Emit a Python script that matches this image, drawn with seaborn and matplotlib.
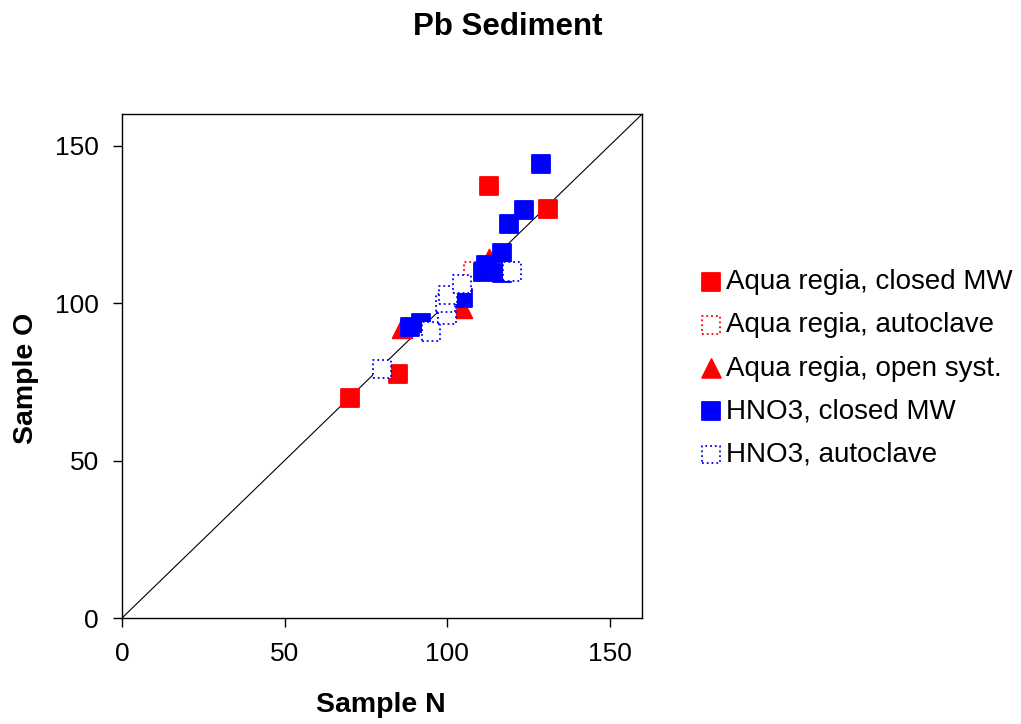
import numpy as np
import pandas as pd
import matplotlib
matplotlib.use("Agg")
import matplotlib.pyplot as plt
import seaborn as sns

# Values (Sample N, Sample O)
ar_closed_n = [70, 85, 113, 131]
ar_closed_o = [70, 77.5, 137, 130]

ar_auto_n = [108]
ar_auto_o = [110]

ar_open_n = [86, 104.5, 113]
ar_open_o = [92, 98.5, 114]

hno3_closed_n = [88.5, 92, 105, 111, 112, 117, 117, 119, 123.5, 129]
hno3_closed_o = [92.5, 93.5, 101.5, 110, 112, 109.5, 116, 125, 129.5, 144]

hno3_auto_n = [80, 95, 100, 99.5, 100.3, 104.5, 120]
hno3_auto_o = [79, 91, 96.4, 100, 102.5, 106, 110]

labels = ["Aqua regia, closed MW", "Aqua regia, autoclave",
          "Aqua regia, open syst.", "HNO3, closed MW", "HNO3, autoclave"]
ticks = [0, 50, 100, 150]

sns.set_theme(style="white")
plt.rcParams["font.family"] = ["Liberation Sans", "DejaVu Sans"]
plt.rcParams["text.color"] = "black"
plt.rcParams["axes.labelcolor"] = "black"
plt.rcParams["xtick.color"] = "black"
plt.rcParams["ytick.color"] = "black"

fig = plt.figure(figsize=(10.21, 7.24), dpi=100)
ax = fig.add_axes([0.1195, 0.1464, 0.5095, 0.6961])

# diagonal 1:1 line
ax.plot([0, 160], [0, 160], color="black", lw=0.8, zorder=1)

series = [
    (ar_closed_n, ar_closed_o, "s", "red", "red", "-"),
    (ar_auto_n, ar_auto_o, "s", "white", "red", ":"),
    (ar_open_n, ar_open_o, "^", "red", "red", "-"),
    (hno3_closed_n, hno3_closed_o, "s", "blue", "blue", "-"),
    (hno3_auto_n, hno3_auto_o, "s", "white", "blue", ":"),
]

for (xs, ys, mk, fc, ec, ls), lab in zip(series, labels):
    df = pd.DataFrame({"Sample N": xs, "Sample O": ys})
    sns.scatterplot(data=df, x="Sample N", y="Sample O", ax=ax, marker=mk,
                    s=175 if mk == "s" else 200, color=fc, edgecolor=ec,
                    linewidth=1.3, linestyle=ls, label=lab, zorder=3)

ax.set_xlim(0, 160)
ax.set_ylim(0, 160)
ax.set_xticks(ticks)
ax.set_yticks(ticks)
ax.tick_params(axis="both", direction="out", length=6.5, width=1, labelsize=19,
               bottom=True, left=True)
ax.tick_params(axis="y", pad=10)
ax.tick_params(axis="x", pad=11)
for sp in ax.spines.values():
    sp.set_color("black")
    sp.set_linewidth(1)

ax.set_xlabel("Sample N", fontsize=20.5, fontweight="bold")
ax.set_ylabel("Sample O", fontsize=20.5, fontweight="bold")
ax.xaxis.set_label_coords(0.497, -0.147)
ax.yaxis.set_label_coords(-0.16, 0.476)
fig.suptitle("Pb Sediment", fontsize=22.5, fontweight="bold", x=0.497, y=0.983)

ax.legend(loc="center left", bbox_to_anchor=(1.111, 0.495), frameon=False,
          fontsize=20, handletextpad=0.15, labelspacing=0.62,
          handlelength=0.8, markerscale=0.95, borderaxespad=0, borderpad=0)

fig.savefig("out.png", dpi=100)
